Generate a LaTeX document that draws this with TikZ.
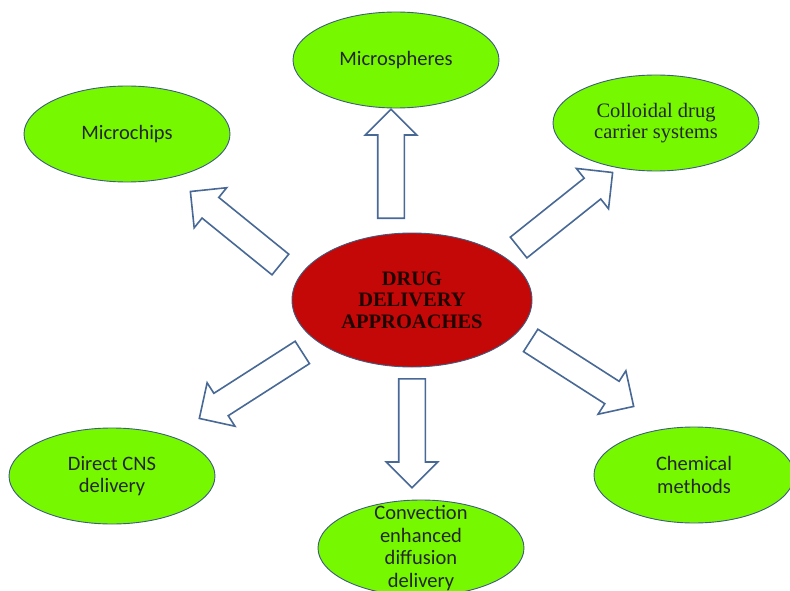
\documentclass[tikz,border=0pt]{standalone}
\usepackage{fontspec}
\setmainfont{Liberation Serif}
\newfontfamily\calfont{Carlito}
\usetikzlibrary{shapes.geometric,shapes.arrows,calc}
\definecolor{limeg}{RGB}{118,248,0}
\definecolor{hubred}{RGB}{196,8,8}
\definecolor{rimc}{RGB}{62,92,130}
\definecolor{arrc}{RGB}{72,104,150}

% hollow block arrow from tail #1 to tip #2, named #3
\newcommand{\fatarrow}[3]{%
  \path let \p1=(#1), \p2=(#2), \n1={atan2(\y2-\y1,\x2-\x1)}, \n2={veclen(\x2-\x1,\y2-\y1)} in
    node[fat,rotate=\n1,minimum height=\n2,anchor=tail] (#3) at (\p1) {};}

\begin{document}
\begin{tikzpicture}[x=1pt,y=-1pt,
 oval/.style={ellipse,draw=rimc,line width=0.9pt,fill=limeg,minimum width=206pt,minimum height=96pt,
   inner sep=0pt,align=center,text=black!85,font=\calfont\fontsize{20.5}{22.5}\selectfont},
 fat/.style={single arrow,draw=arrc,line width=1.6pt,fill=white,inner xsep=0pt,inner ysep=12.5pt,
   single arrow head extend=12.5pt,single arrow tip angle=90}]
\useasboundingbox (0,0) rectangle (790,591);
\node[ellipse,draw=rimc,line width=0.9pt,fill=hubred,minimum width=240pt,minimum height=134pt,inner sep=0pt,
  align=center,text=black!88!red,font=\bfseries\fontsize{20.5}{21.5}\selectfont] (hub) at (412,300) {DRUG\\DELIVERY\\APPROACHES};
\node[oval] (spheres) at (396,60) {Microspheres};
\node[oval] (chips) at (127,134) {Microchips};
\node[oval,font=\fontsize{20.5}{20.5}\selectfont] (colloid) at (656,123) {Colloidal drug\\carrier systems};
\node[oval] (cns) at (112,476) {Direct CNS\\delivery};
\node[oval,label={[align=center,text=black!85,font=\calfont\fontsize{20.5}{22.5}\selectfont]center:{Convection\\enhanced\\diffusion\\delivery}}] (conv) at (421,548) {};
\node[oval,minimum width=200pt] (chem) at (694,475) {Chemical\\methods};
% arrow ends
\coordinate (t1) at (391,219); \coordinate (h1) at (391,110);
\coordinate (t2) at (281,265); \coordinate (h2) at (191,192);
\coordinate (t3) at (518,248); \coordinate (h3) at (612,173);
\coordinate (t4) at (303,352); \coordinate (h4) at (200,418);
\coordinate (t5) at (412,378); \coordinate (h5) at (412,487);
\coordinate (t6) at (530,340); \coordinate (h6) at (633,406);
\fatarrow{t1}{h1}{up}
\fatarrow{t2}{h2}{upleft}
\fatarrow{t3}{h3}{upright}
\fatarrow{t4}{h4}{downleft}
\fatarrow{t5}{h5}{down}
\fatarrow{t6}{h6}{downright}
\end{tikzpicture}
\end{document}
